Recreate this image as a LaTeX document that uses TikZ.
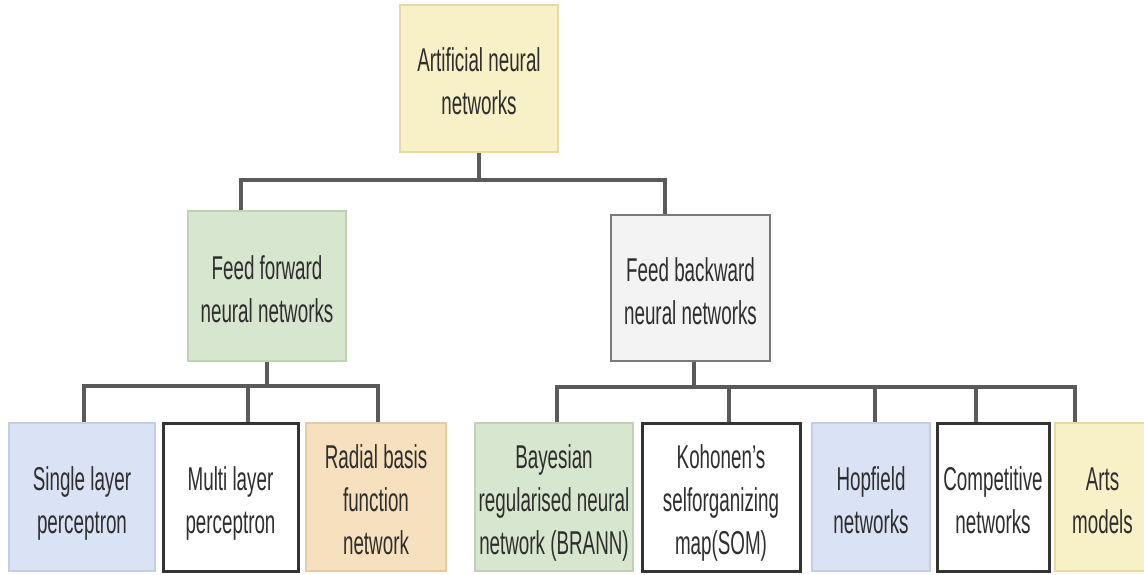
\documentclass[tikz,border=0pt]{standalone}
\usepackage{fontspec}
\setmainfont{Liberation Sans}
\usepackage{graphicx}

% condensed two/three-line label, set slightly below the box centre
\newcommand{\lbl}[1]{\raisebox{-6pt}[\height][\depth]{\scalebox{0.57}[1]{\begin{tabular}{@{}c@{}}#1\end{tabular}}}}

\definecolor{txt}{HTML}{2E2E2E}
\definecolor{wire}{HTML}{5A5A5A}
\definecolor{yelF}{HTML}{F8F0C6}\definecolor{yelD}{HTML}{E6DAA2}
\definecolor{grnF}{HTML}{D6E6CF}\definecolor{grnD}{HTML}{BFD3B4}
\definecolor{bluF}{HTML}{DAE2F5}\definecolor{bluD}{HTML}{C3CDE6}
\definecolor{orgF}{HTML}{F7E0BD}\definecolor{orgD}{HTML}{E6CBA0}
\definecolor{gryF}{HTML}{F3F3F3}\definecolor{gryD}{HTML}{7A7A7A}

\tikzset{
  box/.style={rectangle, inner sep=0pt, text=txt,
    font=\fontsize{33}{43}\selectfont, line width=2pt},
  yelbox/.style={box, fill=yelF, draw=yelD},
  grnbox/.style={box, fill=grnF, draw=grnD},
  blubox/.style={box, fill=bluF, draw=bluD},
  orgbox/.style={box, fill=orgF, draw=orgD},
  grybox/.style={box, fill=gryF, draw=gryD, line width=2.5pt},
  whtbox/.style={box, fill=white, draw=black!80, line width=3pt},
  conn/.style={draw=wire, line width=3.2pt}
}

\begin{document}
\begin{tikzpicture}[x=1pt, y=-1pt]
\useasboundingbox (0,0) rectangle (1144,574);
\fill[white] (0,0) rectangle (1144,574);

% root
\node[yelbox, minimum width=158pt, minimum height=147pt] (root) at (479,78.5)
  {\lbl{Artificial neural\\networks}};

% second level
\node[grnbox, minimum width=158pt, minimum height=150pt] (ff) at (267,286)
  {\lbl{Feed forward\\neural networks}};
\node[grybox, minimum width=159pt, minimum height=146pt] (fb) at (690.5,288)
  {\lbl{Feed backward\\neural networks}};

% leaves
\node[blubox, minimum width=146pt, minimum height=148pt] (slp) at (82,497)
  {\lbl{Single layer\\perceptron}};
\node[whtbox, minimum width=135pt, minimum height=148pt] (mlp) at (230.5,497)
  {\lbl{Multi layer\\perceptron}};
\node[orgbox, minimum width=140pt, minimum height=148pt] (rbf) at (376,497)
  {\lbl{Radial basis\\function\\network}};
\node[grnbox, minimum width=158pt, minimum height=148pt] (bra) at (554,497)
  {\lbl{Bayesian\\regularised neural\\network (BRANN)}};
\node[whtbox, minimum width=158pt, minimum height=148pt] (som) at (721,497)
  {\lbl{Kohonen's\\selforganizing\\map(SOM)}};
\node[blubox, minimum width=118pt, minimum height=148pt] (hop) at (871,497)
  {\lbl{Hopfield\\networks}};
\node[whtbox, minimum width=112pt, minimum height=148pt] (cmp) at (993,497)
  {\lbl{Competitive\\networks}};
\node[yelbox, minimum width=95pt, minimum height=148pt] (art) at (1102.5,497)
  {\lbl{Arts\\models}};

% bus heights
\coordinate (bus1) at (0,180);
\coordinate (bus2) at (0,386);
\coordinate (bus3) at (0,387);

% root to second level
\draw[conn] (root.south) -- (root.south |- bus1);
\draw[conn] ([xshift=-26pt]ff.north) |- (root.south |- bus1) -| ([xshift=-25.5pt]fb.north);

% feed forward branch
\draw[conn] (ff.south) -- (ff.south |- bus2);
\draw[conn] ([xshift=2pt]slp.north) |- ([xshift=2pt]rbf.north |- bus2) -- ([xshift=2pt]rbf.north);
\draw[conn] ([xshift=17.5pt]mlp.north) -- ([xshift=17.5pt]mlp.north |- bus2);

% feed backward branch
\draw[conn] ([xshift=3.5pt]fb.south) -- ([xshift=3.5pt]fb.south |- bus3);
\draw[conn] ([xshift=3pt]bra.north) |- ([xshift=-27.5pt]art.north |- bus3) -- ([xshift=-27.5pt]art.north);
\draw[conn] ([xshift=8pt]som.north) -- ([xshift=8pt]som.north |- bus3);
\draw[conn] ([xshift=4pt]hop.north) -- ([xshift=4pt]hop.north |- bus3);
\draw[conn] ([xshift=-17pt]cmp.north) -- ([xshift=-17pt]cmp.north |- bus3);
\end{tikzpicture}
\end{document}
